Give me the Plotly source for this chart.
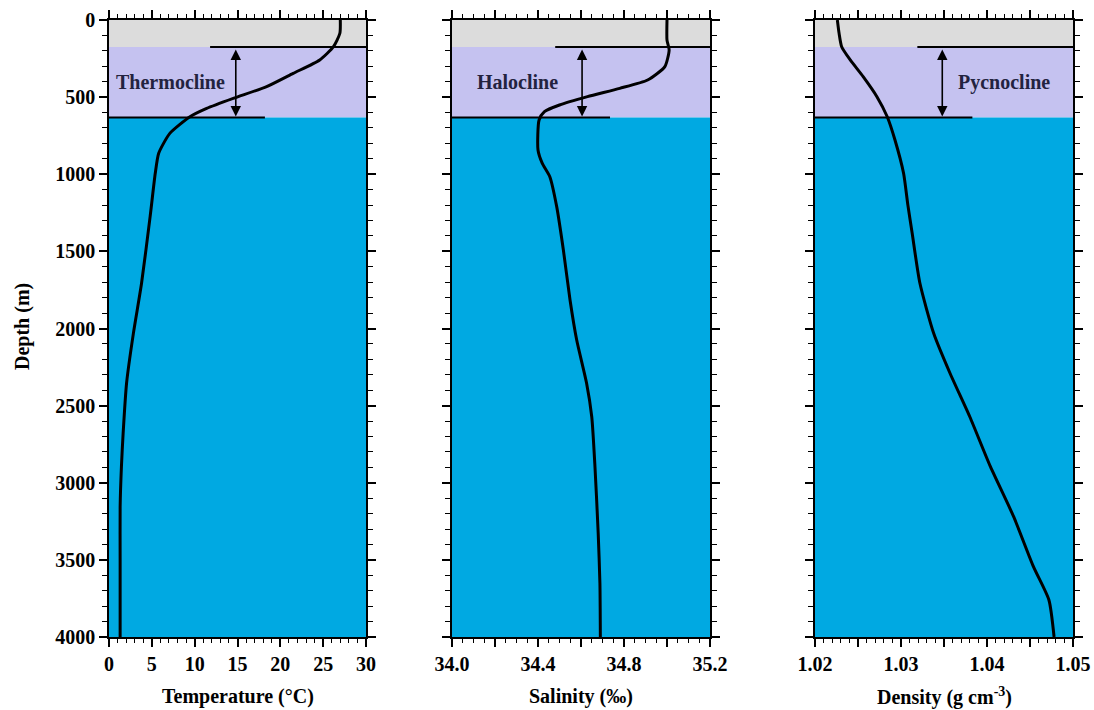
import plotly.graph_objects as go

# ---------------- data ----------------
depth_T = [0, 86, 173, 259, 346, 432, 508, 573, 627, 735, 864, 994, 1275, 1707, 2030, 2355, 2680, 2896, 3155, 3500, 4000]
temperature = [27.0, 26.95, 26.2, 24.6, 21.5, 18.4, 14.5, 11.4, 9.45, 7.1, 5.8, 5.4, 4.8, 3.8, 2.85, 2.05, 1.65, 1.45, 1.3, 1.3, 1.3]

depth_S = [0, 130, 194, 302, 389, 443, 497, 551, 594, 648, 843, 930, 1016, 1210, 1491, 1815, 2075, 2355, 2572, 2896, 3328, 3652, 4000]
salinity = [35.0, 35.0, 35.01, 34.99, 34.91, 34.78, 34.63, 34.50, 34.43, 34.405, 34.40, 34.42, 34.455, 34.487, 34.518, 34.549, 34.58, 34.626, 34.65, 34.665, 34.68, 34.688, 34.69]

depth_D = [0, 86, 173, 259, 367, 497, 627, 778, 994, 1200, 1383, 1707, 2031, 2290, 2572, 2896, 3220, 3544, 3760, 4000]
density = [1.0226, 1.0228, 1.0231, 1.0241, 1.0256, 1.0272, 1.0284, 1.0293, 1.0303, 1.0308, 1.0313, 1.0322, 1.0338, 1.0357, 1.0380, 1.0404, 1.0431, 1.0454, 1.0472, 1.0478]

# layer boundaries (m)
mixed_layer_bottom = 175
cline_bottom = 632
max_depth = 4000

# cline marker lines / arrow / labels per panel
cline_names = ["Thermocline", "Halocline", "Pycnocline"]
top_line_x = [(11.8, 30), (34.48, 35.2), (1.0319, 1.05)]
bottom_line_x = [(0, 18.2), (34.0, 34.735), (1.02, 1.0383)]
arrow_x = [14.8, 34.605, 1.0348]
label_x = [7.2, 34.305, 1.0420]
label_depth = 402

x_ranges = [(0, 30), (34.0, 35.2), (1.02, 1.05)]
x_titles = ["Temperature (°C)", "Salinity (‰)", "Density (g cm<sup>-3</sup>)"]
temp_ticks = [0, 5, 10, 15, 20, 25, 30]
sal_ticks = [34.0, 34.2, 34.4, 34.6, 34.8, 35.0, 35.2]
sal_labels = ["34.0", "", "34.4", "", "34.8", "", "35.2"]
dens_ticks = [1.02, 1.025, 1.03, 1.035, 1.04, 1.045, 1.05]
dens_labels = ["1.02", "", "1.03", "", "1.04", "", "1.05"]
depth_ticks = [0, 500, 1000, 1500, 2000, 2500, 3000, 3500, 4000]

# ---------------- style ----------------
W, H = 1094, 710
FONT = "Liberation Serif"
GRAY = "#dcdcdc"
LAV = "#c5c2f0"
BLUE = "#00a9e2"
TXT = "#23233f"
FS = 20


def px_x(p):
    return p / W


def px_y(p):
    return 1 - p / H


x_px = [(109, 366), (452, 710), (815, 1073)]
y_dom = [px_y(637), px_y(20)]

fig = go.Figure()

series = [(temperature, depth_T), (salinity, depth_S), (density, depth_D)]
for i, (xs, ys) in enumerate(series):
    sfx = "" if i == 0 else str(i + 1)
    fig.add_trace(go.Scatter(x=xs, y=ys, mode="lines", xaxis="x" + sfx, yaxis="y" + sfx,
                             line=dict(color="black", width=3, shape="spline", smoothing=0.6),
                             showlegend=False, hoverinfo="skip"))

tickfont = dict(family=FONT, size=FS, color="black", weight="bold")
shapes = []
annotations = []
layout_axes = {}
for i in range(3):
    sfx = "" if i == 0 else str(i + 1)
    xa = "xaxis" + sfx
    ya = "yaxis" + sfx
    xr = "x" + sfx
    yr = "y" + sfx
    xax = dict(domain=[px_x(x_px[i][0]), px_x(x_px[i][1])], range=list(x_ranges[i]), anchor=yr,
               showgrid=False, zeroline=False, showline=True, linecolor="black", linewidth=1.5,
               mirror="allticks", ticks="outside", ticklen=8, tickwidth=1.5, tickcolor="black",
               tickfont=tickfont, fixedrange=True, automargin=False, ticklabeloverflow="allow")
    if i == 0:
        xax.update(tickmode="array", tickvals=temp_ticks, ticktext=[str(t) for t in temp_ticks],
                   minor=dict(tick0=0, dtick=1, ticks="outside", ticklen=4, tickwidth=1.2, tickcolor="black"))
    elif i == 1:
        xax.update(tickmode="array", tickvals=sal_ticks, ticktext=sal_labels,
                   minor=dict(tick0=34.0, dtick=0.05, ticks="outside", ticklen=4, tickwidth=1.2, tickcolor="black"))
    else:
        xax.update(tickmode="array", tickvals=dens_ticks, ticktext=dens_labels,
                   minor=dict(tick0=1.02, dtick=0.001, ticks="outside", ticklen=4, tickwidth=1.2, tickcolor="black"))
    yax = dict(domain=y_dom, range=[max_depth, 0], anchor=xr, showgrid=False, zeroline=False,
               showline=True, linecolor="black", linewidth=1.5, mirror="allticks",
               ticks="outside", ticklen=8, tickwidth=1.5, tickcolor="black",
               tickmode="array", tickvals=depth_ticks, ticktext=[str(t) for t in depth_ticks],
               tickfont=tickfont, showticklabels=(i == 0), fixedrange=True, automargin=False,
               ticklabeloverflow="allow",
               minor=dict(tick0=0, dtick=100, ticks="outside", ticklen=5, tickwidth=1.2, tickcolor="black"))
    layout_axes[xa] = xax
    layout_axes[ya] = yax

    # background layers
    for (d0, d1, col) in [(0, mixed_layer_bottom, GRAY), (mixed_layer_bottom, cline_bottom, LAV),
                          (cline_bottom, max_depth, BLUE)]:
        shapes.append(dict(type="rect", xref=xr + " domain", yref=yr, x0=0, x1=1, y0=d0, y1=d1,
                           fillcolor=col, line=dict(width=0), layer="below"))
    # cline lines
    shapes.append(dict(type="line", xref=xr, yref=yr, x0=top_line_x[i][0], x1=top_line_x[i][1],
                       y0=mixed_layer_bottom, y1=mixed_layer_bottom, line=dict(color="black", width=2)))
    shapes.append(dict(type="line", xref=xr, yref=yr, x0=bottom_line_x[i][0], x1=bottom_line_x[i][1],
                       y0=cline_bottom, y1=cline_bottom, line=dict(color="black", width=2)))
    # double arrow
    annotations.append(dict(x=arrow_x[i], y=cline_bottom, ax=arrow_x[i], ay=mixed_layer_bottom,
                            xref=xr, yref=yr, axref=xr, ayref=yr, text="", showarrow=True,
                            arrowhead=2, startarrowhead=2, arrowside="end+start", arrowsize=1.3,
                            startarrowsize=1.3, arrowwidth=1.6, arrowcolor="black", standoff=1, startstandoff=1))
    annotations.append(dict(x=label_x[i], y=label_depth, xref=xr, yref=yr, text=cline_names[i],
                            showarrow=False, font=dict(family=FONT, size=FS, color=TXT, weight="bold")))
    # x axis title
    annotations.append(dict(x=px_x((x_px[i][0] + x_px[i][1]) / 2), y=px_y(696), xref="paper", yref="paper",
                            text=x_titles[i], showarrow=False, xanchor="center", yanchor="middle",
                            font=dict(family=FONT, size=FS, color="black", weight="bold")))

annotations.append(dict(x=px_x(22), y=px_y(327), xref="paper", yref="paper", text="Depth (m)",
                        textangle=-90, showarrow=False, xanchor="center", yanchor="middle",
                        font=dict(family=FONT, size=FS, color="black", weight="bold")))

fig.update_layout(width=W, height=H, autosize=False, margin=dict(l=0, r=0, t=0, b=0),
                  paper_bgcolor="white", plot_bgcolor="white", shapes=shapes, annotations=annotations,
                  **layout_axes)

fig.write_html("out.html", config={"displayModeBar": False},
               post_script="document.body.style.margin='0px';document.body.style.overflow='hidden';")
